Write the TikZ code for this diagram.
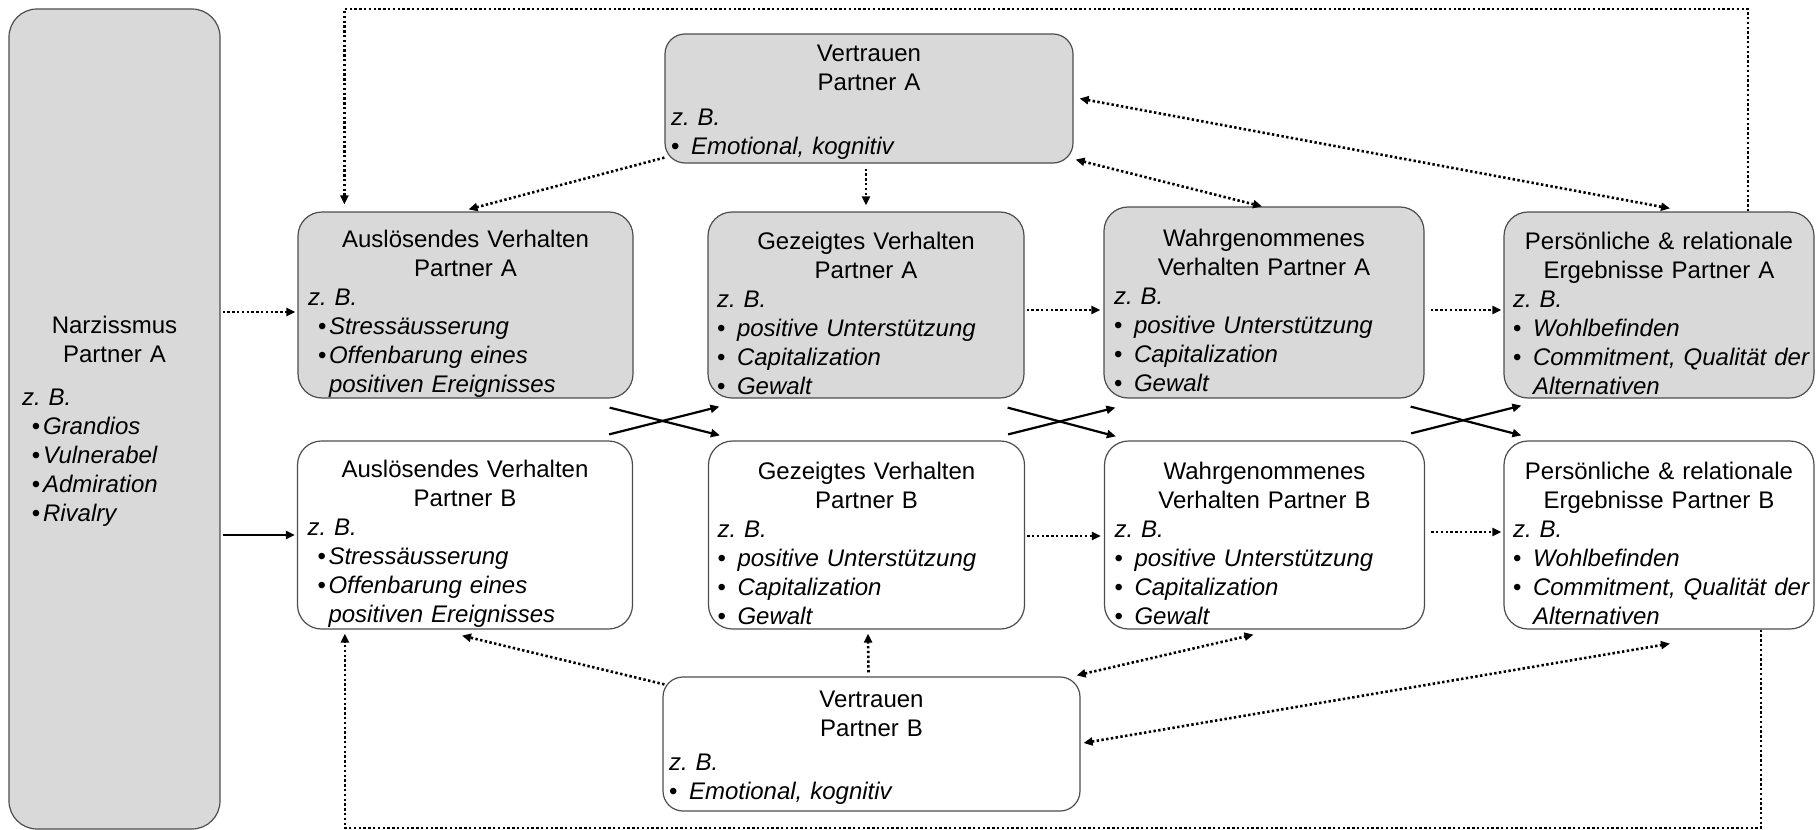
\documentclass[tikz,border=0pt]{standalone}
\usepackage{fontspec}
\setmainfont{Liberation Sans}
\usetikzlibrary{arrows.meta,calc}
\definecolor{fuell}{HTML}{D9D9D9}
\definecolor{rahmen}{HTML}{4D4D4D}
\newcommand{\kopf}[1]{{\centering #1\par}}
\newcommand{\zb}{\noindent\textit{z.\ B.}\par}
\newcommand{\punktA}[1]{\noindent\hangindent=10.5pt\hangafter=1\hspace*{5pt}\makebox[5.5pt][l]{•}\textit{#1}\par}
\newcommand{\punktB}[1]{\noindent\hangindent=10pt\hangafter=1\makebox[10pt][l]{•}\textit{#1}\par}
\tikzset{
  kasten/.style={draw=rahmen, line width=0.6pt, rounded corners=12pt, inner ysep=0pt, align=left,
    font=\fontsize{12pt}{14.5pt}\selectfont},
  oben/.style={execute at begin node={\rule{0pt}{#1}}},
  grau/.style={kasten, fill=fuell},
  weiss/.style={kasten, fill=white},
  narzstil/.style={text width=92.5pt, inner xsep=6.5pt, minimum height=410pt, rounded corners=14pt, oben=10.5pt},
  ausl/.style={text width=157.5pt, inner xsep=5pt, oben=17pt},
  gez/.style={text width=149pt, inner xsep=4.5pt, oben=17pt},
  wahr/.style={text width=150pt, inner xsep=5pt, oben=17pt},
  pers/.style={text width=146pt, inner xsep=4.5pt, oben=17pt},
  vert/.style={inner xsep=3pt, rounded corners=10pt, oben=12pt},
  spitze/.tip={Triangle[length=4.5pt,width=4pt]},
  pfeil/.style={-spitze, line width=1.1pt},
  punktiert/.style={pfeil, line width=1.3pt, dash pattern=on 1.2pt off 1.2pt},
  beidseitig/.style={punktiert, spitze-spitze}
}
\begin{document}
\begin{tikzpicture}[x=0.5pt, y=-0.5pt]
\useasboundingbox (0,0) rectangle (1816,830);
\coordinate (oben) at (0,9);
\coordinate (unten) at (0,828);
\node[grau, narzstil] (narz) at (114.5,419) {\kopf{Narzissmus\\Partner A}\vspace{7pt}\zb\punktA{Grandios}\punktA{Vulnerabel}\punktA{Admiration}\punktA{Rivalry}};
\node[grau, vert, text width=198pt, minimum height=64.5pt] (vertA) at (869,98.5) {\kopf{Vertrauen\\Partner A}\vspace{2.6pt}\zb\punktB{Emotional, kognitiv}};
\node[grau, ausl, minimum height=93pt] (ausA) at (465.5,305) {\kopf{Auslösendes Verhalten\\Partner A}\zb\punktA{Stressäusserung}\punktA{Offenbarung eines\newline positiven Ereignisses}};
\node[grau, gez, minimum height=93pt] (gezA) at (866,305) {\kopf{Gezeigtes Verhalten\\Partner A}\zb\punktB{positive Unterstützung}\punktB{Capitalization}\punktB{Gewalt}};
\node[grau, wahr, minimum height=95.5pt] (wahA) at (1264,302.5) {\kopf{Wahrgenommenes\\Verhalten Partner A}\zb\punktB{positive Unterstützung}\punktB{Capitalization}\punktB{Gewalt}};
\node[grau, pers, minimum height=93pt] (persA) at (1659,305) {\kopf{Persönliche \& relationale\\Ergebnisse Partner A}\zb\punktB{Wohlbefinden}\punktB{\mbox{Commitment, Qualität der}\newline Alternativen}};
\node[weiss, ausl, minimum height=94pt] (ausB) at (465,535) {\kopf{Auslösendes Verhalten\\Partner B}\zb\punktA{Stressäusserung}\punktA{Offenbarung eines\newline positiven Ereignisses}};
\node[weiss, gez, minimum height=94pt] (gezB) at (866.5,535) {\kopf{Gezeigtes Verhalten\\Partner B}\zb\punktB{positive Unterstützung}\punktB{Capitalization}\punktB{Gewalt}};
\node[weiss, wahr, minimum height=94pt] (wahB) at (1264.5,535) {\kopf{Wahrgenommenes\\Verhalten Partner B}\zb\punktB{positive Unterstützung}\punktB{Capitalization}\punktB{Gewalt}};
\node[weiss, pers, minimum height=94pt] (persB) at (1659,535) {\kopf{Persönliche \& relationale\\Ergebnisse Partner B}\zb\punktB{Wohlbefinden}\punktB{\mbox{Commitment, Qualität der}\newline Alternativen}};
\node[weiss, vert, text width=202.5pt, minimum height=67pt] (vertB) at (871.5,744) {\kopf{Vertrauen\\Partner B}\vspace{2.6pt}\zb\punktB{Emotional, kognitiv}};
\draw[punktiert] ($(ausA.west -| narz.east)+(2,7)$) -- ($(ausA.west)+(-2,7)$);
\draw[pfeil] ($(ausB.west -| narz.east)+(2,0)$) -- ($(ausB.west)+(-2,0)$);
\draw[punktiert] ($(gezA.east)+(2,5)$) -- ($(gezA.east -| wahA.west)+(-3,5)$);
\draw[punktiert] ($(wahA.east |- gezA.east)+(6,5)$) -- ($(persA.west)+(-2,5)$);
\draw[punktiert] ($(gezB.east)+(2,1)$) -- ($(gezB.east -| wahB.west)+(-3,1)$);
\draw[punktiert] ($(wahB.east)+(6,-3)$) -- ($(wahB.east -| persB.west)+(-2,-3)$);
\draw[pfeil] ($(ausA.south east)+(-24,9)$) -- ($(gezB.north west)+(12,-5)$);
\draw[pfeil] ($(ausB.north east)+(-24,-6)$) -- ($(gezA.south west)+(12,8)$);
\draw[pfeil] ($(gezA.south east)+(-17,9)$) -- ($(wahB.north west)+(12,-4)$);
\draw[pfeil] ($(gezB.north east)+(-17,-6)$) -- ($(wahA.south west)+(12,9)$);
\draw[pfeil] ($(wahA.south east)+(-14,8)$) -- ($(persB.north west)+(18,-5)$);
\draw[pfeil] ($(wahB.north east)+(-14,-7)$) -- ($(persA.south west)+(18,7)$);
\draw[punktiert] ($(vertA.south west)+(0,-6)$) -- ($(ausA.north)+(3,-2)$);
\draw[punktiert] ($(vertA.south)+(-3,5)$) -- ($(gezA.north)+(0,-6)$);
\draw[beidseitig] ($(vertA.south east)+(2,-4)$) -- ($(wahA.north)+(-2,0)$);
\draw[beidseitig] ($(vertA.east)+(6,0)$) -- ($(persA.north)+(11,-3)$);
\draw[punktiert] ($(vertB.north west)+(2,8)$) -- ($(ausB.south)+(-3,6)$);
\draw[punktiert] ($(vertB.north)+(-3,-4)$) -- ($(gezB.south)+(1.5,4)$);
\draw[beidseitig] ($(vertB.north east)+(-4,-1)$) -- ($(wahB.south)+(-11,5)$);
\draw[beidseitig] ($(vertB.east)+(3,-1)$) -- ($(persB.south)+(11,14)$);
\path ($(persA.north)+(89,0)$) coordinate (schleifeA) ($(persB.south)+(102,0)$) coordinate (schleifeB);
\draw[punktiert] (schleifeA) -- (schleifeA |- oben) -| ($(ausA.north west)+(47,-7)$);
\draw[punktiert] (schleifeB) -- (schleifeB |- unten) -| ($(ausB.south west)+(48,4)$);
\end{tikzpicture}
\end{document}
